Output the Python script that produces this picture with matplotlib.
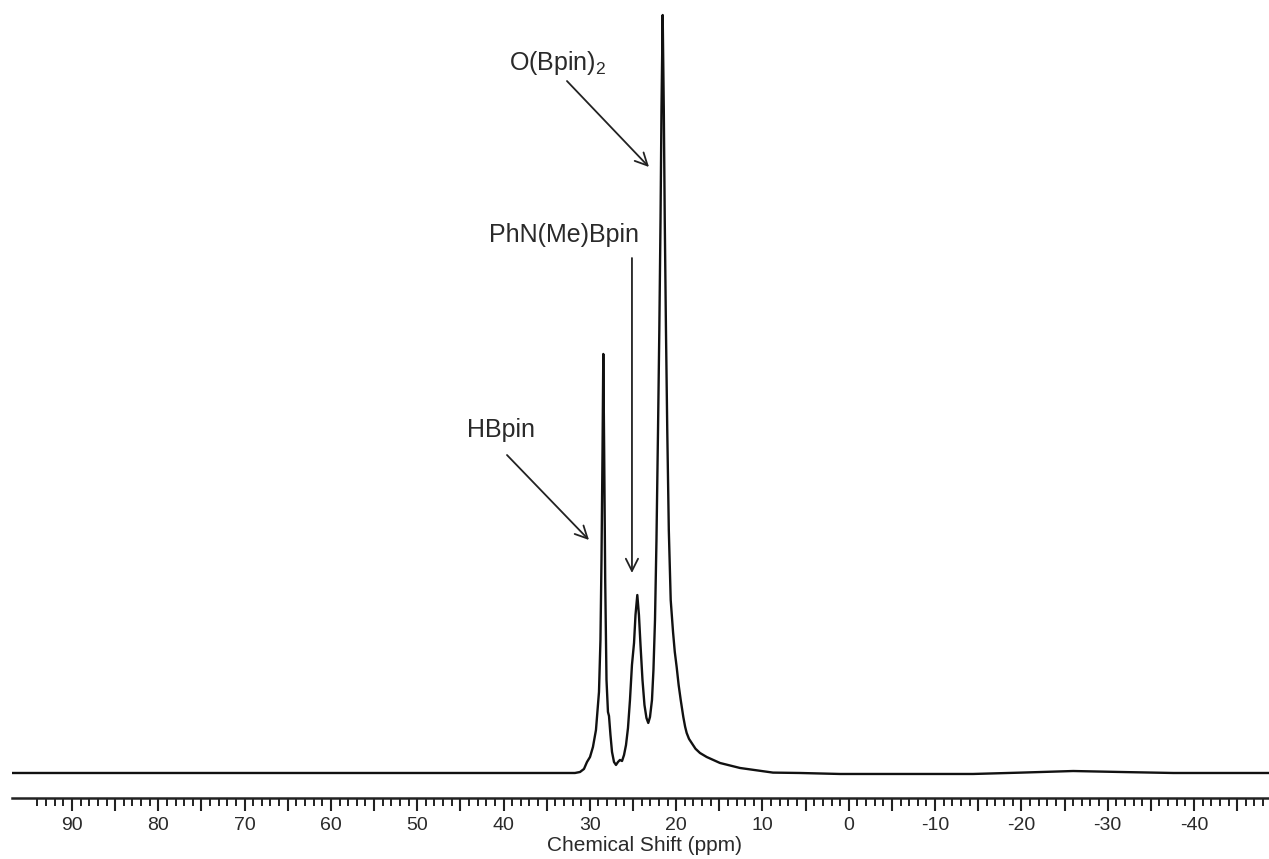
import matplotlib.pyplot as plt
from matplotlib.ticker import FixedLocator, FuncFormatter
import numpy as np

# 11B NMR trace, chemical shift (ppm) vs. intensity (O(Bpin)2 peak = 100)
shift = [96.95, 60.0, 40.0, 31.72, 31.14, 30.68, 30.33, 29.98, 29.64, 29.29,
         29.06, 28.94, 28.77, 28.65, 28.53, 28.44, 28.34, 28.22, 28.07, 27.90,
         27.78, 27.61, 27.43, 27.20, 26.97, 26.74, 26.51, 26.27, 26.04, 25.81,
         25.58, 25.35, 25.12, 24.88, 24.71, 24.50, 24.31, 24.13, 23.90, 23.67,
         23.44, 23.23, 23.03, 22.80, 22.63, 22.45, 22.28, 22.10, 21.95, 21.81,
         21.70, 21.56, 21.43, 21.32, 21.18, 21.03, 20.85, 20.63, 20.36, 20.16,
         19.94, 19.71, 19.47, 19.17, 18.96, 18.78, 18.51, 18.20, 17.76, 17.24,
         16.46, 14.92, 12.60, 8.78, 5.65, 1.02, -8.0, -14.4, -20.0, -26.0,
         -32.0, -37.6, -48.7]
intensity = [0.0, 0.0, 0.0, 0.0, 0.13, 0.53, 1.45, 2.11, 3.43, 5.67,
             8.97, 10.69, 17.55, 28.10, 42.61, 55.28, 42.61, 25.46, 12.27, 8.05,
             7.52, 5.01, 2.77, 1.45, 1.06, 1.45, 1.72, 1.58, 2.37, 3.69,
             5.94, 9.63, 14.25, 17.15, 20.84, 23.48, 20.84, 16.89, 12.27, 8.97,
             7.26, 6.60, 7.39, 9.63, 13.59, 20.18, 30.74, 45.25, 58.44, 72.96,
             87.47, 100.0, 87.47, 72.96, 58.44, 45.25, 32.06, 22.82, 18.60, 16.00,
             13.98, 11.60, 9.63, 7.39, 6.10, 5.28, 4.50, 3.96, 3.20, 2.64,
             2.11, 1.32, 0.66, 0.05, 0.0, -0.13, -0.13, -0.13, 0.05, 0.26,
             0.12, 0.0, 0.0]

# peak assignments: label, text anchor (ppm, int), arrow tail, arrow head
labels = ["HBpin", "PhN(Me)Bpin", r"O(Bpin)$_\mathregular{2}$"]
label_pos = [(40.35, 44.3), (32.94, 70.05), (33.75, 92.74)]
arrow_tail = [(39.60, 41.95), (25.12, 67.94), (32.65, 91.29)]
arrow_head = [(30.10, 30.74), (25.12, 26.39), (23.15, 79.95)]

plt.rcParams['font.family'] = ['Liberation Sans', 'DejaVu Sans']
plt.rcParams['mathtext.fontset'] = 'custom'
plt.rcParams['mathtext.rm'] = 'Liberation Sans'
txt = '#2a2a2a'

fig = plt.figure(figsize=(12.69, 8.59), dpi=100)
ax = fig.add_axes([12 / 1269, 1 - 798 / 859, 1 - 12 / 1269, 798 / 859])

ax.plot(shift, intensity, color='#111111', lw=1.7, solid_joinstyle='round')

ax.set_xlim(96.95, -48.69)
ax.set_ylim(-3.30, 101.98)

for sp in ['top', 'left', 'right']:
    ax.spines[sp].set_visible(False)
ax.spines['bottom'].set_linewidth(1.8)
ax.spines['bottom'].set_color('#222222')
ax.set_yticks([])

major = np.arange(-45, 95, 5)
minor = [v for v in range(-48, 95) if v % 5 != 0]
ax.xaxis.set_major_locator(FixedLocator(major))
ax.xaxis.set_minor_locator(FixedLocator(minor))
ax.xaxis.set_major_formatter(FuncFormatter(lambda v, p: f"{int(v)}" if int(v) % 10 == 0 else ""))
ax.tick_params(axis='x', which='major', length=9, width=1.5, color='#222222',
               labelsize=14, labelcolor=txt, pad=5)
ax.tick_params(axis='x', which='minor', length=5.5, width=1.4, color='#222222')
for t in ax.xaxis.get_major_ticks():
    if int(round(t.get_loc())) % 10 != 0:
        t.tick1line.set_markersize(7)

ax.set_xlabel("Chemical Shift (ppm)", fontsize=15, color=txt)
ax.xaxis.set_label_coords(0.5035, -0.0476)

for lab, tp, tail, head in zip(labels, label_pos, arrow_tail, arrow_head):
    ax.text(tp[0], tp[1], lab, fontsize=18, color=txt, ha='center', va='baseline')
    ax.annotate("", xy=head, xytext=tail,
                arrowprops=dict(arrowstyle='->', color='#222222', lw=1.3,
                                mutation_scale=22, shrinkA=0, shrinkB=0))

fig.savefig("out.png", dpi=100)
